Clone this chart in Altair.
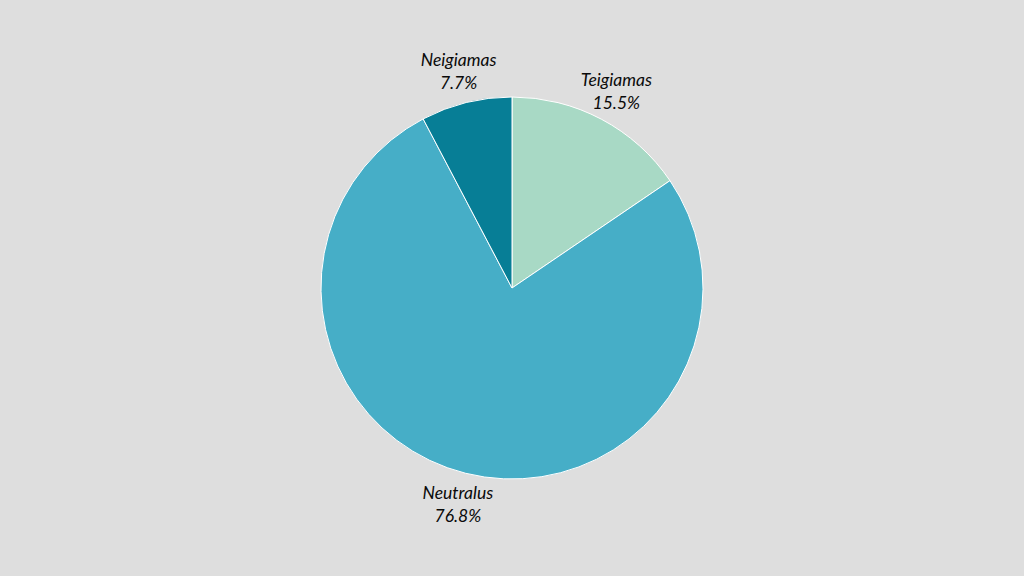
import altair as alt
import pandas as pd
import jinja2

categories = ["Teigiamas", "Neutralus", "Neigiamas"]
shares = [15.5, 76.8, 7.7]
colors = ["#a8d9c5", "#46aec7", "#077e96"]

df = pd.DataFrame({
    "category": categories,
    "share": shares,
    "order": list(range(len(categories))),
})
df["label"] = [f"{c}\n{v:.1f}%" for c, v in zip(categories, shares)]

base = alt.Chart(df).encode(
    theta=alt.Theta("share:Q", stack=True),
    order=alt.Order("order:Q", sort="ascending"),
)

pie = base.mark_arc(outerRadius=191, stroke="#ffffff", strokeWidth=1).encode(
    color=alt.Color("category:N",
                    scale=alt.Scale(domain=categories, range=colors),
                    legend=None)
)

labels = base.mark_text(
    radius=223, lineBreak="\n", font="Lato", fontStyle="italic",
    fontWeight="normal", fontSize=17.5, color="#0a0a0a", align="center",
    baseline="middle", lineHeight=23, dy=-10,
).encode(text="label:N")

chart = (pie + labels).properties(
    width=1024, height=576,
    autosize=alt.AutoSizeParams(type="fit", contains="padding"),
    padding=0,
).configure(background="#dedede").configure_view(stroke=None)

template = jinja2.Template("""<!DOCTYPE html>
<html>
<head>
<style>html,body{margin:0;padding:0;background:#dedede;overflow:hidden}</style>
<script type="text/javascript" src="{{ base_url }}/vega@{{ vega_version }}"></script>
<script type="text/javascript" src="{{ base_url }}/vega-lite@{{ vegalite_version }}"></script>
<script type="text/javascript" src="{{ base_url }}/vega-embed@{{ vegaembed_version }}"></script>
</head>
<body>
<div id="{{ output_div }}"></div>
<script type="text/javascript">
vegaEmbed("#{{ output_div }}", {{ spec }}, {{ embed_options }}).catch(console.error);
</script>
</body>
</html>
""")

chart.save("out.html", embed_options={"renderer": "svg", "actions": False}, template=template)
